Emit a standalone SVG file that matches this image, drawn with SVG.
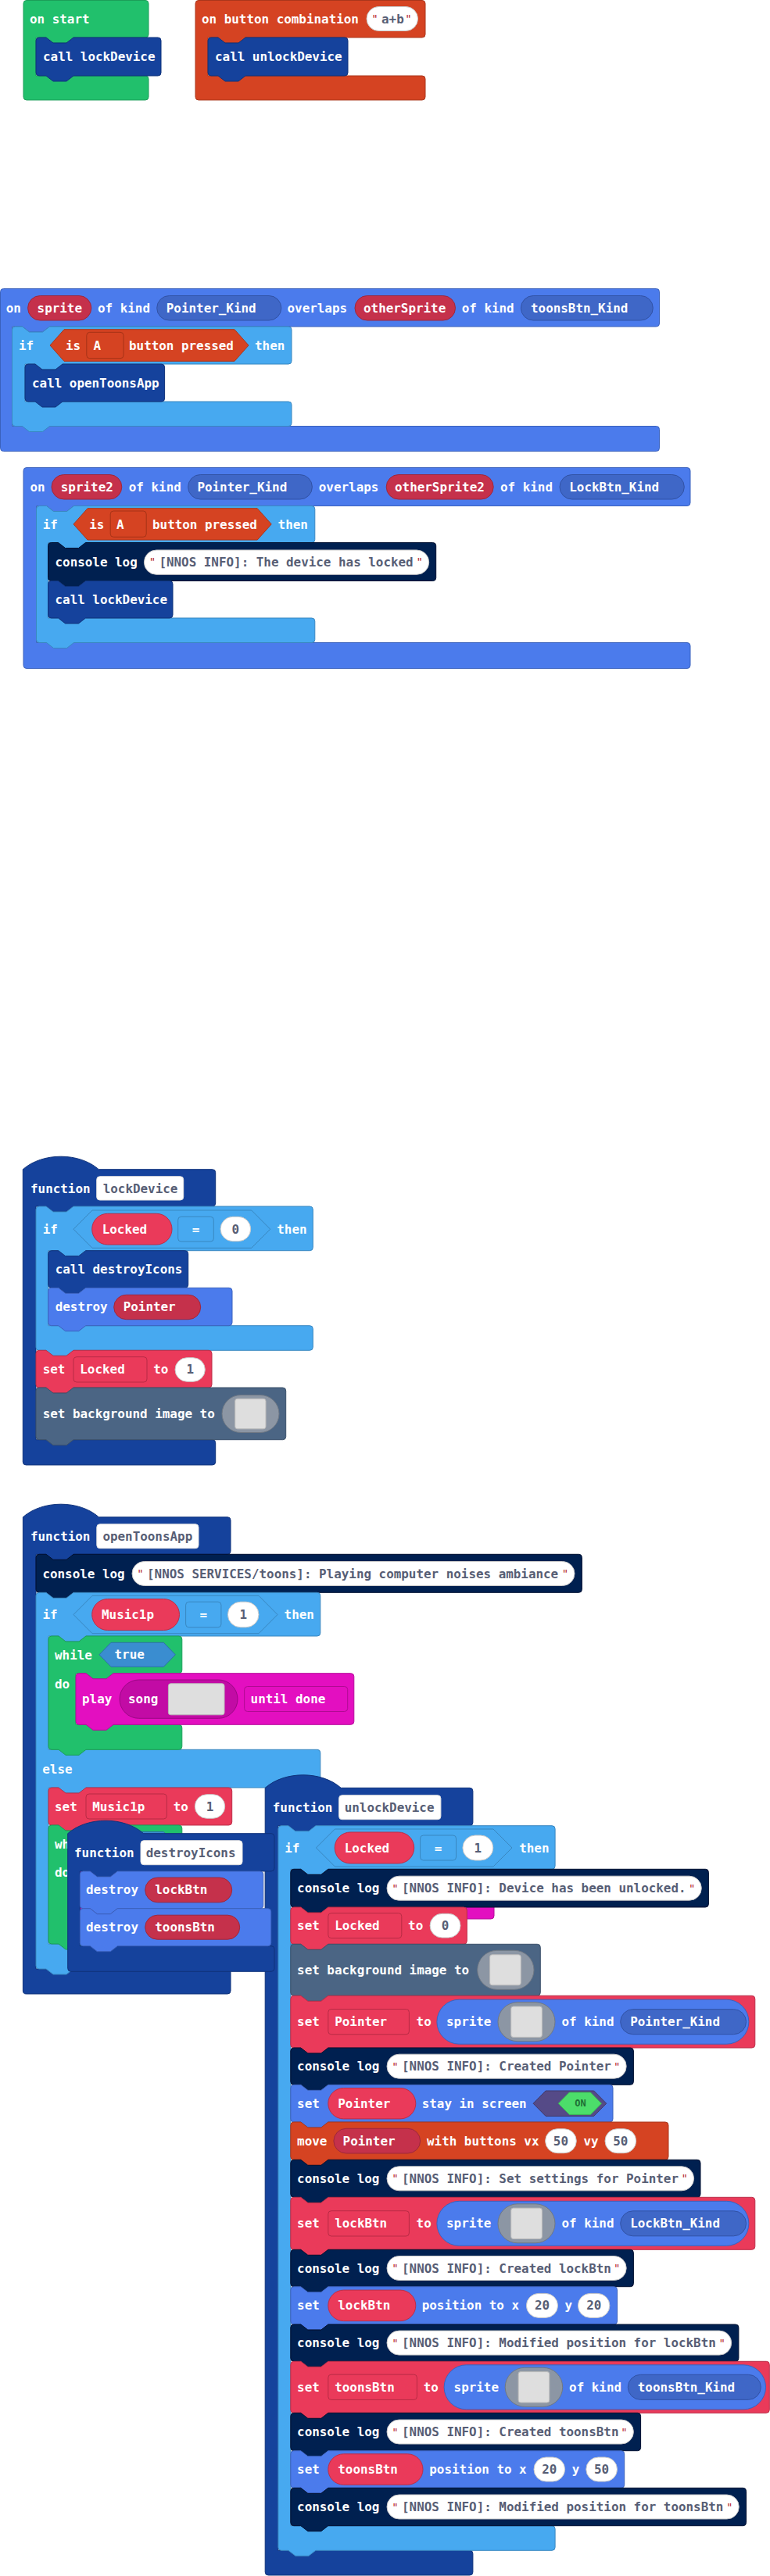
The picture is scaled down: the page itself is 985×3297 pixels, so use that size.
<svg xmlns="http://www.w3.org/2000/svg" width="985" height="3297" viewBox="0 0 985 3297">
<style>
.t{font-family:"DejaVu Sans Mono","Liberation Mono",monospace;font-weight:bold;font-size:15.9px;fill:#fff;dominant-baseline:central}
.d{fill:#575E75}
.c{text-anchor:middle}
.q{font-family:"DejaVu Sans Mono","Liberation Mono",monospace;font-size:14px;fill:#B5272D;dominant-baseline:central;text-anchor:middle}
.on{font-family:"DejaVu Sans Mono","Liberation Mono",monospace;font-weight:bold;font-size:12px;fill:#1E6E34;dominant-baseline:central;text-anchor:middle}
path,rect,polygon{stroke-width:1}
.grn{fill:#21C06C;stroke:#1B9E58}
.ctl{fill:#D54322;stroke:#AA361B}
.fn{fill:#15429C;stroke:#0F327A}
.spr{fill:#4B7BEC;stroke:#3B62BD}
.kd{fill:#3F67C7;stroke:#3152A5}
.lg{fill:#47A9F0;stroke:#3987C0}
.tru{fill:#3A8DD0;stroke:#2D70A8}
.vb{fill:#EA3A5A;stroke:#BB2E48}
.vd{fill:#C5314B;stroke:#9E273C}
.vdd{fill:#EA3A5A;stroke:#B82B45}
.con{fill:#002050;stroke:#000F30}
.scn{fill:#4B6584;stroke:#3C516A}
.img{fill:#8C96A4;stroke:#6F7884}
.imgi{fill:#DEDEDE;stroke:#BBBBBB}
.mus{fill:#E30FC0;stroke:#B50C9A}
.song{fill:#C20BA5;stroke:#9A0884}
.mdd{fill:#E30FC0;stroke:#B00A93}
.wp{fill:#FFFFFF;stroke:#C8C8C8}
.nb{fill:#FFFFFF;stroke:#E0E0E0}
.cdd{fill:#D54322;stroke:#A63317}
.tg{fill:#554A87;stroke:#40386A}
.tgi{fill:#4CDD6A;stroke:#3BB655}
</style>
<defs>
<clipPath id="clip-while2"><rect x="60" y="2340" width="26.7" height="70"/></clipPath>
</defs>
<g id="connectors"/>

<g id="on-start">
<path class="grn" transform="translate(30,0.5)" d="M0,4 Q0,0 4,0 H156 Q160,0 160,4 V43.5 Q160,47.5 156,47.5 H64 L55,54.5 H38 L29,47.5 H16 V96.5 H156 Q160,96.5 160,100.5 V123.5 Q160,127.5 156,127.5 H4 Q0,127.5 0,123.5 Z"/>
<text class="t" x="38" y="24.5">on start</text>
<g id="call-lockDevice-start">
<path class="fn" transform="translate(46,48)" d="M0,4 Q0,0 4,0 H13 L22,7 H39 L48,0 H156 Q160,0 160,4 V45 Q160,49 156,49 H48 L39,56 H22 L13,49 H4 Q0,49 0,45 Z"/>
<text class="t" x="55" y="72.5">call lockDevice</text>
</g>
</g>

<g id="on-button-combination">
<path class="ctl" transform="translate(250,0.5)" d="M0,4 Q0,0 4,0 H290 Q294,0 294,4 V43.5 Q294,47.5 290,47.5 H64 L55,54.5 H38 L29,47.5 H16 V96.5 H290 Q294,96.5 294,100.5 V123.5 Q294,127.5 290,127.5 H4 Q0,127.5 0,123.5 Z"/>
<text class="t" x="258" y="24.5">on button combination</text>
<rect class="wp" x="469" y="8.5" width="65.5" height="31" rx="15.5"/>
<text class="q" x="479.5" y="24">"</text>
<text class="t d" x="488" y="24">a+b</text>
<text class="q" x="522.5" y="24">"</text>
<g id="call-unlockDevice">
<path class="fn" transform="translate(266,48)" d="M0,4 Q0,0 4,0 H13 L22,7 H39 L48,0 H175 Q179,0 179,4 V45 Q179,49 175,49 H48 L39,56 H22 L13,49 H4 Q0,49 0,45 Z"/>
<text class="t" x="275" y="72.5">call unlockDevice</text>
</g>
</g>

<g id="overlap-toons">
<path class="spr" transform="translate(0.5,369.5)" d="M0,4 Q0,0 4,0 H839 Q843,0 843,4 V44.5 Q843,48.5 839,48.5 H63 L54,55.5 H37 L28,48.5 H15 V176 H839 Q843,176 843,180 V204 Q843,208 839,208 H4 Q0,208 0,204 Z"/>
<text class="t" x="7.7" y="394.3">on</text>
<rect class="vd" x="35.6" y="378.5" width="81.2" height="31.5" rx="15.75"/>
<text class="t" x="47.6" y="394.3">sprite</text>
<text class="t" x="125" y="394.3">of kind</text>
<rect class="kd" x="200.7" y="378.5" width="159.1" height="31.5" rx="15.75"/>
<text class="t" x="212.8" y="394.3">Pointer_Kind</text>
<text class="t" x="367.5" y="394.3">overlaps</text>
<rect class="vd" x="454" y="378.5" width="128.5" height="31.5" rx="15.75"/>
<text class="t" x="465" y="394.3">otherSprite</text>
<text class="t" x="590.7" y="394.3">of kind</text>
<rect class="kd" x="666.4" y="378.5" width="168.9" height="31.5" rx="15.75"/>
<text class="t" x="679" y="394.3">toonsBtn_Kind</text>
<g id="if-toons">
<path class="lg" transform="translate(15.5,418)" d="M0,4 Q0,0 4,0 H13 L22,7 H39 L48,0 H353.5 Q357.5,0 357.5,4 V44 Q357.5,48 353.5,48 H64.5 L55.5,55 H38.5 L29.5,48 H16.5 V96 H353.5 Q357.5,96 357.5,100 V123.5 Q357.5,127.5 353.5,127.5 H48 L39,134.5 H22 L13,127.5 H4 Q0,127.5 0,123.5 Z"/>
<text class="t" x="24" y="442">if</text>
<polygon class="ctl" points="64,442 82,421.7 300,421.7 318,442 300,462.3 82,462.3"/>
<text class="t" x="84" y="442">is</text>
<rect class="cdd" x="110.8" y="425.3" width="47.2" height="33.4" rx="4"/>
<text class="t" x="119.6" y="442">A</text>
<text class="t" x="165" y="442">button pressed</text>
<text class="t" x="326" y="442">then</text>
<g id="call-openToonsApp">
<path class="fn" transform="translate(32,466)" d="M0,4 Q0,0 4,0 H13 L22,7 H39 L48,0 H174.6 Q178.6,0 178.6,4 V44 Q178.6,48 174.6,48 H48 L39,55 H22 L13,48 H4 Q0,48 0,44 Z"/>
<text class="t" x="41" y="490">call openToonsApp</text>
</g>
</g>
</g>

<g id="overlap-lock">
<path class="spr" transform="translate(30,598.5)" d="M0,4 Q0,0 4,0 H849 Q853,0 853,4 V45 Q853,49 849,49 H64.5 L55.5,56 H38.5 L29.5,49 H16.5 V224 H849 Q853,224 853,228 V253 Q853,257 849,257 H4 Q0,257 0,253 Z"/>
<text class="t" x="38.5" y="623.3">on</text>
<rect class="vd" x="66" y="607.5" width="89.8" height="31.5" rx="15.75"/>
<text class="t" x="77.8" y="623.3">sprite2</text>
<text class="t" x="164.8" y="623.3">of kind</text>
<rect class="kd" x="240.6" y="607.5" width="158.8" height="31.5" rx="15.75"/>
<text class="t" x="252.4" y="623.3">Pointer_Kind</text>
<text class="t" x="407.8" y="623.3">overlaps</text>
<rect class="vd" x="494.2" y="607.5" width="137" height="31.5" rx="15.75"/>
<text class="t" x="505" y="623.3">otherSprite2</text>
<text class="t" x="640" y="623.3">of kind</text>
<rect class="kd" x="716" y="607.5" width="159.3" height="31.5" rx="15.75"/>
<text class="t" x="728.3" y="623.3">LockBtn_Kind</text>
<g id="if-lock">
<path class="lg" transform="translate(46.5,647.5)" d="M0,4 Q0,0 4,0 H13 L22,7 H39 L48,0 H352.3 Q356.3,0 356.3,4 V43 Q356.3,47 352.3,47 H63 L54,54 H37 L28,47 H15 V143.5 H352.3 Q356.3,143.5 356.3,147.5 V171 Q356.3,175 352.3,175 H48 L39,182 H22 L13,175 H4 Q0,175 0,171 Z"/>
<text class="t" x="54.8" y="671">if</text>
<polygon class="ctl" points="94,670.9 112,650.7 329.2,650.7 347.2,670.9 329.2,691 112,691"/>
<text class="t" x="114.3" y="671">is</text>
<rect class="cdd" x="141.2" y="654" width="46" height="33.3" rx="4"/>
<text class="t" x="149" y="671">A</text>
<text class="t" x="195" y="671">button pressed</text>
<text class="t" x="355.6" y="671">then</text>
<g id="log-locked">
<path class="con" transform="translate(61.5,694.5)" d="M0,4 Q0,0 4,0 H13 L22,7 H39 L48,0 H492.2 Q496.2,0 496.2,4 V45 Q496.2,49 492.2,49 H48 L39,56 H22 L13,49 H4 Q0,49 0,45 Z"/>
<text class="t" x="70.5" y="719">console log</text>
<rect class="wp" x="184.4" y="704" width="364.3" height="31.3" rx="15.65"/>
<text class="q" x="194.9" y="719">"</text>
<text class="t d" x="203.4" y="719">[NNOS INFO]: The device has locked</text>
<text class="q" x="536.7" y="719">"</text>
</g>
<g id="call-lockDevice-2">
<path class="fn" transform="translate(61.5,743.5)" d="M0,4 Q0,0 4,0 H13 L22,7 H39 L48,0 H155.5 Q159.5,0 159.5,4 V43.5 Q159.5,47.5 155.5,47.5 H48 L39,54.5 H22 L13,47.5 H4 Q0,47.5 0,43.5 Z"/>
<text class="t" x="70.5" y="767.3">call lockDevice</text>
</g>
</g>
</g>

<g id="function-lockDevice">
<path class="fn" transform="translate(29.3,1496.7)" d="M0,0 C25,-22 72,-22 97,0 H242.4 Q246.4,0 246.4,4 V43.3 Q246.4,47.3 242.4,47.3 H64.7 L55.7,54.3 H38.7 L29.7,47.3 H16.7 V346 H242.4 Q246.4,346 246.4,350 V374.3 Q246.4,378.3 242.4,378.3 H4 Q0,378.3 0,374.3 Z"/>
<text class="t" x="39" y="1521">function</text>
<rect class="nb" x="123.7" y="1505.7" width="111" height="30.3" rx="4"/>
<text class="t d" x="131.7" y="1521">lockDevice</text>
<g id="if-locked-0">
<path class="lg" transform="translate(46,1544)" d="M0,4 Q0,0 4,0 H13 L22,7 H39 L48,0 H350.3 Q354.3,0 354.3,4 V52.7 Q354.3,56.7 350.3,56.7 H63.7 L54.7,63.7 H37.7 L28.7,56.7 H15.7 V152.7 H350.3 Q354.3,152.7 354.3,156.7 V180.3 Q354.3,184.3 350.3,184.3 H48 L39,191.3 H22 L13,184.3 H4 Q0,184.3 0,180.3 Z"/>
<text class="t" x="54.7" y="1573.2">if</text>
<polygon class="lg" points="94,1573.2 118,1549 321.7,1549 345.7,1573.2 321.7,1597.3 118,1597.3"/>
<rect class="vb" x="117.7" y="1553.3" width="102.3" height="39.7" rx="19.85"/>
<text class="t" x="130.7" y="1573.2">Locked</text>
<rect class="lg" x="227.7" y="1557.3" width="45.6" height="31.7" rx="4"/>
<text class="t c" x="250.5" y="1573.2">=</text>
<rect class="wp" x="282" y="1557.3" width="38.7" height="31.4" rx="15.7"/>
<text class="t d c" x="301.3" y="1573.2">0</text>
<text class="t" x="354.3" y="1573.2">then</text>
<g id="call-destroyIcons">
<path class="fn" transform="translate(61.7,1600.7)" d="M0,4 Q0,0 4,0 H13 L22,7 H39 L48,0 H175 Q179,0 179,4 V43.6 Q179,47.6 175,47.6 H48 L39,54.6 H22 L13,47.6 H4 Q0,47.6 0,43.6 Z"/>
<text class="t" x="70.7" y="1624.7">call destroyIcons</text>
</g>
<g id="destroy-Pointer">
<path class="spr" transform="translate(61.7,1648.3)" d="M0,4 Q0,0 4,0 H13 L22,7 H39 L48,0 H231.3 Q235.3,0 235.3,4 V44.4 Q235.3,48.4 231.3,48.4 H48 L39,55.4 H22 L13,48.4 H4 Q0,48.4 0,44.4 Z"/>
<text class="t" x="70.7" y="1672.8">destroy</text>
<rect class="vd" x="145.7" y="1657.3" width="111" height="31.4" rx="15.7"/>
<text class="t" x="157.7" y="1672.8">Pointer</text>
</g>
</g>
<g id="set-Locked-1">
<path class="vb" transform="translate(46,1728.3)" d="M0,4 Q0,0 4,0 H13 L22,7 H39 L48,0 H221 Q225,0 225,4 V43.7 Q225,47.7 221,47.7 H48 L39,54.7 H22 L13,47.7 H4 Q0,47.7 0,43.7 Z"/>
<text class="t" x="54.7" y="1752.8">set</text>
<rect class="vdd" x="94" y="1736.7" width="94" height="32.3" rx="4"/>
<text class="t" x="102.3" y="1752.8">Locked</text>
<text class="t" x="196.3" y="1752.8">to</text>
<rect class="wp" x="224" y="1737.7" width="38.3" height="30.6" rx="15.3"/>
<text class="t d c" x="243.2" y="1752.8">1</text>
</g>
<g id="set-background-lock">
<path class="scn" transform="translate(46,1776)" d="M0,4 Q0,0 4,0 H13 L22,7 H39 L48,0 H315.7 Q319.7,0 319.7,4 V62.7 Q319.7,66.7 315.7,66.7 H48 L39,73.7 H22 L13,66.7 H4 Q0,66.7 0,62.7 Z"/>
<text class="t" x="54.7" y="1809.5">set background image to</text>
<rect class="img" x="284" y="1785.5" width="73" height="48" rx="24"/>
<rect class="imgi" x="300.7" y="1790.2" width="39.3" height="38.6" rx="3"/>
</g>
</g>

<g id="function-openToonsApp">
<path class="fn" transform="translate(29.4,1941.7)" d="M0,0 C25,-22 72,-22 97,0 H261.6 Q265.6,0 265.6,4 V43.6 Q265.6,47.6 261.6,47.6 H64.6 L55.6,54.6 H38.6 L29.6,47.6 H16.6 V578.3 H261.6 Q265.6,578.3 265.6,582.3 V606.3 Q265.6,610.3 261.6,610.3 H4 Q0,610.3 0,606.3 Z"/>
<text class="t" x="38.9" y="1966.5">function</text>
<rect class="nb" x="123.8" y="1950.7" width="130.2" height="31" rx="4"/>
<text class="t d" x="131.4" y="1966.5">openToonsApp</text>
<g id="log-toons">
<path class="con" transform="translate(46,1989.3)" d="M0,4 Q0,0 4,0 H13 L22,7 H39 L48,0 H694.4 Q698.4,0 698.4,4 V45 Q698.4,49 694.4,49 H48 L39,56 H22 L13,49 H4 Q0,49 0,45 Z"/>
<text class="t" x="54.4" y="2014">console log</text>
<rect class="wp" x="169" y="1998.5" width="566" height="31" rx="15.5"/>
<text class="q" x="179.5" y="2014">"</text>
<text class="t d" x="188" y="2014">[NNOS SERVICES/toons]: Playing computer noises ambiance</text>
<text class="q" x="723" y="2014">"</text>
</g>
<g id="if-music">
<path class="lg" transform="translate(46,2038.3)" d="M0,4 Q0,0 4,0 H13 L22,7 H39 L48,0 H359.8 Q363.8,0 363.8,4 V51.7 Q363.8,55.7 359.8,55.7 H64 L55,62.7 H38 L29,55.7 H16 V201 H359.8 Q363.8,201 363.8,205 V245.7 Q363.8,249.7 359.8,249.7 H64 L55,256.7 H38 L29,249.7 H16 V449.7 H359.8 Q363.8,449.7 363.8,453.7 V477.7 Q363.8,481.7 359.8,481.7 H48 L39,488.7 H22 L13,481.7 H4 Q0,481.7 0,477.7 Z"/>
<text class="t" x="54.4" y="2066.5">if</text>
<polygon class="lg" points="94,2066.5 118,2042.3 331,2042.3 355,2066.5 331,2090.7 118,2090.7"/>
<rect class="vb" x="117.7" y="2046.5" width="111.8" height="40" rx="20"/>
<text class="t" x="130" y="2066.5">Music1p</text>
<rect class="lg" x="237.6" y="2050.2" width="45.3" height="32.6" rx="4"/>
<text class="t c" x="260.2" y="2066.5">=</text>
<rect class="wp" x="291.4" y="2050.2" width="39.6" height="32.6" rx="16.3"/>
<text class="t d c" x="311.2" y="2066.5">1</text>
<text class="t" x="363.6" y="2066.5">then</text>
<text class="t" x="54.3" y="2264">else</text>
<g id="while-1">
<path class="grn" transform="translate(62,2094)" d="M0,4 Q0,0 4,0 H13 L22,7 H39 L48,0 H166.8 Q170.8,0 170.8,4 V43.7 Q170.8,47.7 166.8,47.7 H83 L74,54.7 H57 L48,47.7 H35 V113.3 H166.8 Q170.8,113.3 170.8,117.3 V141.3 Q170.8,145.3 166.8,145.3 H48 L39,152.3 H22 L13,145.3 H4 Q0,145.3 0,141.3 Z"/>
<text class="t" x="70" y="2118">while</text>
<polygon class="tru" points="127,2117.8 142,2102.3 209.3,2102.3 224.3,2117.8 209.3,2133.3 142,2133.3"/>
<text class="t" x="146.5" y="2117.8">true</text>
<text class="t" x="70" y="2155">do</text>
<g id="play-song-1">
<path class="mus" transform="translate(97,2141.7)" d="M0,4 Q0,0 4,0 H13 L22,7 H39 L48,0 H351.8 Q355.8,0 355.8,4 V61.6 Q355.8,65.6 351.8,65.6 H48 L39,72.6 H22 L13,65.6 H4 Q0,65.6 0,61.6 Z"/>
<text class="t" x="105" y="2174.5">play</text>
<rect class="song" x="153" y="2150" width="151" height="49.3" rx="24.65"/>
<text class="t" x="164" y="2174.5">song</text>
<rect class="imgi" x="215.4" y="2154.8" width="71.6" height="40" rx="3"/>
<rect class="mdd" x="312.6" y="2158.5" width="132.1" height="32" rx="4"/>
<text class="t" x="320.6" y="2174.5">until done</text>
</g>
</g>
<g id="set-Music1p">
<path class="vb" transform="translate(62,2288)" d="M0,4 Q0,0 4,0 H13 L22,7 H39 L48,0 H230.7 Q234.7,0 234.7,4 V44 Q234.7,48 230.7,48 H48 L39,55 H22 L13,48 H4 Q0,48 0,44 Z"/>
<text class="t" x="70" y="2312">set</text>
<rect class="vdd" x="110" y="2296" width="103.3" height="32" rx="4"/>
<text class="t" x="118.3" y="2312">Music1p</text>
<text class="t" x="221.7" y="2312">to</text>
<rect class="wp" x="249.3" y="2296.7" width="38.4" height="30.6" rx="15.3"/>
<text class="t d c" x="268.5" y="2312">1</text>
</g>
<g id="while-2">
<path class="grn" transform="translate(62,2336)" d="M0,4 Q0,0 4,0 H13 L22,7 H39 L48,0 H166.8 Q170.8,0 170.8,4 V43.5 Q170.8,47.5 166.8,47.5 H83 L74,54.5 H57 L48,47.5 H35 V120 H166.8 Q170.8,120 170.8,124 V148 Q170.8,152 166.8,152 H48 L39,159 H22 L13,152 H4 Q0,152 0,148 Z"/>
<g clip-path="url(#clip-while2)">
<text class="t" x="70" y="2360">while</text>
<text class="t" x="70" y="2396.7">do</text>
</g>
<polygon class="tru" points="127,2360 142,2344.5 209.3,2344.5 224.3,2360 209.3,2375.5 142,2375.5"/>
<g id="play-song-2">
<path class="mus" transform="translate(97,2383.5)" d="M0,4 Q0,0 4,0 H13 L22,7 H39 L48,0 H531 Q535,0 535,4 V68.5 Q535,72.5 531,72.5 H48 L39,79.5 H22 L13,72.5 H4 Q0,72.5 0,68.5 Z"/>
<rect x="160" y="2392" width="420" height="56" rx="28" fill="#F0F0F0" stroke="#B5B5B5"/>
</g>
</g>
</g>
</g>

<g id="function-unlockDevice">
<path class="fn" transform="translate(339.2,2288.3)" d="M0,0 C25,-22 72,-22 97,0 H261.7 Q265.7,0 265.7,4 V44.4 Q265.7,48.4 261.7,48.4 H64.7 L55.7,55.4 H38.7 L29.7,48.4 H16.7 V976 H261.7 Q265.7,976 265.7,980 V1003.7 Q265.7,1007.7 261.7,1007.7 H4 Q0,1007.7 0,1003.7 Z"/>
<text class="t" x="348.8" y="2313">function</text>
<rect class="nb" x="433.6" y="2297.7" width="130.3" height="31" rx="4"/>
<text class="t d" x="440.7" y="2313">unlockDevice</text>
<g id="if-locked-1">
<path class="lg" transform="translate(355.9,2336.7)" d="M0,4 Q0,0 4,0 H13 L22,7 H39 L48,0 H350.2 Q354.2,0 354.2,4 V51.6 Q354.2,55.6 350.2,55.6 H63.9 L54.9,62.6 H37.9 L28.9,55.6 H15.9 V896 H350.2 Q354.2,896 354.2,900 V923.6 Q354.2,927.6 350.2,927.6 H48 L39,934.6 H22 L13,927.6 H4 Q0,927.6 0,923.6 Z"/>
<text class="t" x="364.3" y="2365">if</text>
<polygon class="lg" points="404.4,2365 428.4,2341 631,2341 655,2365 631,2389 428.4,2389"/>
<rect class="vb" x="428.2" y="2345" width="101.5" height="40" rx="20"/>
<text class="t" x="440.7" y="2365">Locked</text>
<rect class="lg" x="537.6" y="2349" width="45.9" height="32" rx="4"/>
<text class="t c" x="560.5" y="2365">=</text>
<rect class="wp" x="591.9" y="2349" width="38.9" height="32" rx="16"/>
<text class="t d c" x="611.3" y="2365">1</text>
<text class="t" x="664.2" y="2365">then</text>

<g id="log-unlocked">
<path class="con" transform="translate(371.8,2392.3)" d="M0,4 Q0,0 4,0 H13 L22,7 H39 L48,0 H530.6 Q534.6,0 534.6,4 V44.7 Q534.6,48.7 530.6,48.7 H48 L39,55.7 H22 L13,48.7 H4 Q0,48.7 0,44.7 Z"/>
<text class="t" x="380.1" y="2416.6">console log</text>
<rect class="wp" x="495" y="2401.2" width="402.3" height="31" rx="15.5"/>
<text class="q" x="505.5" y="2416.6">"</text>
<text class="t d" x="514" y="2416.6">[NNOS INFO]: Device has been unlocked.</text>
<text class="q" x="885.3" y="2416.6">"</text>
</g>
<g id="set-Locked-0">
<path class="vb" transform="translate(371.8,2441)" d="M0,4 Q0,0 4,0 H13 L22,7 H39 L48,0 H221.5 Q225.5,0 225.5,4 V43.3 Q225.5,47.3 221.5,47.3 H48 L39,54.3 H22 L13,47.3 H4 Q0,47.3 0,43.3 Z"/>
<text class="t" x="380.1" y="2464.6">set</text>
<rect class="vdd" x="419.8" y="2448.6" width="94" height="32" rx="4"/>
<text class="t" x="428.2" y="2464.6">Locked</text>
<text class="t" x="522.1" y="2464.6">to</text>
<rect class="wp" x="550.1" y="2449.3" width="38.9" height="30.7" rx="15.35"/>
<text class="t d c" x="569.5" y="2464.6">0</text>
</g>
<g id="set-background-unlock">
<path class="scn" transform="translate(371.8,2488.3)" d="M0,4 Q0,0 4,0 H13 L22,7 H39 L48,0 H315.5 Q319.5,0 319.5,4 V62 Q319.5,66 315.5,66 H48 L39,73 H22 L13,66 H4 Q0,66 0,62 Z"/>
<text class="t" x="380.1" y="2521.3">set background image to</text>
<rect class="img" x="610.7" y="2496.3" width="72.3" height="50" rx="25"/>
<rect class="imgi" x="626.6" y="2501.8" width="39.7" height="39" rx="3"/>
</g>
<g id="set-Pointer-sprite">
<path class="vb" transform="translate(371.8,2554.3)" d="M0,4 Q0,0 4,0 H13 L22,7 H39 L48,0 H590 Q594,0 594,4 V62.7 Q594,66.7 590,66.7 H48 L39,73.7 H22 L13,66.7 H4 Q0,66.7 0,62.7 Z"/>
<text class="t" x="380.1" y="2587.7">set</text>
<rect class="vdd" x="419.8" y="2571.5" width="103.6" height="32.3" rx="4"/>
<text class="t" x="428.2" y="2587.7">Pointer</text>
<text class="t" x="532.6" y="2587.7">to</text>
<rect class="spr" x="558.9" y="2559.2" width="399" height="57" rx="28.5"/>
<text class="t" x="571" y="2587.7">sprite</text>
<rect class="img" x="637" y="2562.7" width="73" height="50" rx="25"/>
<rect class="imgi" x="653.7" y="2568" width="39.7" height="39.4" rx="3"/>
<text class="t" x="718.5" y="2587.7">of kind</text>
<rect class="kd" x="793.7" y="2571.7" width="160.8" height="32" rx="16"/>
<text class="t" x="806.2" y="2587.7">Pointer_Kind</text>
</g>
<g id="log-created-pointer">
<path class="con" transform="translate(371.8,2621)" d="M0,4 Q0,0 4,0 H13 L22,7 H39 L48,0 H434.6 Q438.6,0 438.6,4 V43.3 Q438.6,47.3 434.6,47.3 H48 L39,54.3 H22 L13,47.3 H4 Q0,47.3 0,43.3 Z"/>
<text class="t" x="380.1" y="2644.7">console log</text>
<rect class="wp" x="495" y="2629.2" width="306.2" height="31" rx="15.5"/>
<text class="q" x="505.5" y="2644.7">"</text>
<text class="t d" x="514" y="2644.7">[NNOS INFO]: Created Pointer</text>
<text class="q" x="789.2" y="2644.7">"</text>
</g>
<g id="set-stay-in-screen">
<path class="spr" transform="translate(371.8,2668.3)" d="M0,4 Q0,0 4,0 H13 L22,7 H39 L48,0 H408.2 Q412.2,0 412.2,4 V43.7 Q412.2,47.7 408.2,47.7 H48 L39,54.7 H22 L13,47.7 H4 Q0,47.7 0,43.7 Z"/>
<text class="t" x="380.1" y="2692.2">set</text>
<rect class="vb" x="419.8" y="2672.5" width="112" height="39.4" rx="19.7"/>
<text class="t" x="432.3" y="2692.2">Pointer</text>
<text class="t" x="539.7" y="2692.2">stay in screen</text>
<polygon class="tg" points="682.1,2692.2 698.1,2676 759.7,2676 775.7,2692.2 759.7,2708.4 698.1,2708.4"/>
<polygon class="tgi" points="714.3,2692.2 728.3,2678 755.4,2678 769.4,2692.2 755.4,2706.4 728.3,2706.4"/>
<text class="on" x="742.5" y="2692.2">ON</text>
</g>
<g id="move-with-buttons">
<path class="ctl" transform="translate(371.8,2716)" d="M0,4 Q0,0 4,0 H13 L22,7 H39 L48,0 H479.2 Q483.2,0 483.2,4 V44.3 Q483.2,48.3 479.2,48.3 H48 L39,55.3 H22 L13,48.3 H4 Q0,48.3 0,44.3 Z"/>
<text class="t" x="380.1" y="2740.2">move</text>
<rect class="vd" x="426.9" y="2724.3" width="110.7" height="31.7" rx="15.85"/>
<text class="t" x="438.6" y="2740.2">Pointer</text>
<text class="t" x="546" y="2740.2">with buttons vx</text>
<rect class="wp" x="697.6" y="2724.7" width="39.7" height="31" rx="15.5"/>
<text class="t d c" x="717.4" y="2740.2">50</text>
<text class="t" x="746.5" y="2740.2">vy</text>
<rect class="wp" x="774" y="2724.7" width="39.7" height="31" rx="15.5"/>
<text class="t d c" x="793.8" y="2740.2">50</text>
</g>
<g id="log-settings-pointer">
<path class="con" transform="translate(371.8,2764.3)" d="M0,4 Q0,0 4,0 H13 L22,7 H39 L48,0 H520.2 Q524.2,0 524.2,4 V44 Q524.2,48 520.2,48 H48 L39,55 H22 L13,48 H4 Q0,48 0,44 Z"/>
<text class="t" x="380.1" y="2788.3">console log</text>
<rect class="wp" x="495" y="2772.8" width="392.6" height="31" rx="15.5"/>
<text class="q" x="505.5" y="2788.3">"</text>
<text class="t d" x="514" y="2788.3">[NNOS INFO]: Set settings for Pointer</text>
<text class="q" x="875.6" y="2788.3">"</text>
</g>
<g id="set-lockBtn-sprite">
<path class="vb" transform="translate(371.8,2812.3)" d="M0,4 Q0,0 4,0 H13 L22,7 H39 L48,0 H590 Q594,0 594,4 V63 Q594,67 590,67 H48 L39,74 H22 L13,67 H4 Q0,67 0,63 Z"/>
<text class="t" x="380.1" y="2845.8">set</text>
<rect class="vdd" x="419.8" y="2829.7" width="103.6" height="32.3" rx="4"/>
<text class="t" x="428.2" y="2845.8">lockBtn</text>
<text class="t" x="532.6" y="2845.8">to</text>
<rect class="spr" x="558.9" y="2817.3" width="399" height="57" rx="28.5"/>
<text class="t" x="571" y="2845.8">sprite</text>
<rect class="img" x="637" y="2820.8" width="73" height="50" rx="25"/>
<rect class="imgi" x="653.7" y="2826.1" width="39.7" height="39.4" rx="3"/>
<text class="t" x="718.5" y="2845.8">of kind</text>
<rect class="kd" x="793.7" y="2829.8" width="160.8" height="32" rx="16"/>
<text class="t" x="806.2" y="2845.8">LockBtn_Kind</text>
</g>
<g id="log-created-lockBtn">
<path class="con" transform="translate(371.8,2879.3)" d="M0,4 Q0,0 4,0 H13 L22,7 H39 L48,0 H434.6 Q438.6,0 438.6,4 V43.4 Q438.6,47.4 434.6,47.4 H48 L39,54.4 H22 L13,47.4 H4 Q0,47.4 0,43.4 Z"/>
<text class="t" x="380.1" y="2903">console log</text>
<rect class="wp" x="495" y="2887.5" width="306.2" height="31" rx="15.5"/>
<text class="q" x="505.5" y="2903">"</text>
<text class="t d" x="514" y="2903">[NNOS INFO]: Created lockBtn</text>
<text class="q" x="789.2" y="2903">"</text>
</g>
<g id="set-lockBtn-position">
<path class="spr" transform="translate(371.8,2926.7)" d="M0,4 Q0,0 4,0 H13 L22,7 H39 L48,0 H413.7 Q417.7,0 417.7,4 V44.3 Q417.7,48.3 413.7,48.3 H48 L39,55.3 H22 L13,48.3 H4 Q0,48.3 0,44.3 Z"/>
<text class="t" x="380.1" y="2950.9">set</text>
<rect class="vb" x="419.8" y="2931.1" width="112" height="39.5" rx="19.75"/>
<text class="t" x="432.3" y="2950.9">lockBtn</text>
<text class="t" x="539.7" y="2950.9">position to x</text>
<rect class="wp" x="673.4" y="2935.4" width="40.1" height="31" rx="15.5"/>
<text class="t d c" x="693.5" y="2950.9">20</text>
<text class="t" x="722.6" y="2950.9">y</text>
<rect class="wp" x="739.4" y="2935.4" width="40.5" height="31" rx="15.5"/>
<text class="t d c" x="759.7" y="2950.9">20</text>
</g>
<g id="log-position-lockBtn">
<path class="con" transform="translate(371.8,2975)" d="M0,4 Q0,0 4,0 H13 L22,7 H39 L48,0 H569.1 Q573.1,0 573.1,4 V43.3 Q573.1,47.3 569.1,47.3 H48 L39,54.3 H22 L13,47.3 H4 Q0,47.3 0,43.3 Z"/>
<text class="t" x="380.1" y="2998.7">console log</text>
<rect class="wp" x="495" y="2983.1" width="440.7" height="31" rx="15.5"/>
<text class="q" x="505.5" y="2998.7">"</text>
<text class="t d" x="514" y="2998.7">[NNOS INFO]: Modified position for lockBtn</text>
<text class="q" x="923.7" y="2998.7">"</text>
</g>
<g id="set-toonsBtn-sprite">
<path class="vb" transform="translate(371.8,3022.3)" d="M0,4 Q0,0 4,0 H13 L22,7 H39 L48,0 H608.5 Q612.5,0 612.5,4 V62 Q612.5,66 608.5,66 H48 L39,73 H22 L13,66 H4 Q0,66 0,62 Z"/>
<text class="t" x="380.1" y="3055.3">set</text>
<rect class="vdd" x="419.8" y="3039.1" width="113.6" height="32.3" rx="4"/>
<text class="t" x="428.2" y="3055.3">toonsBtn</text>
<text class="t" x="541.8" y="3055.3">to</text>
<rect class="spr" x="568.1" y="3026.8" width="411.4" height="57" rx="28.5"/>
<text class="t" x="580.6" y="3055.3">sprite</text>
<rect class="img" x="646.2" y="3030.3" width="73.5" height="50" rx="25"/>
<rect class="imgi" x="663.1" y="3035.6" width="39.7" height="39.4" rx="3"/>
<text class="t" x="728.1" y="3055.3">of kind</text>
<rect class="kd" x="803.3" y="3039.3" width="170" height="32" rx="16"/>
<text class="t" x="815.8" y="3055.3">toonsBtn_Kind</text>
</g>
<g id="log-created-toonsBtn">
<path class="con" transform="translate(371.8,3088.3)" d="M0,4 Q0,0 4,0 H13 L22,7 H39 L48,0 H443.8 Q447.8,0 447.8,4 V44.4 Q447.8,48.4 443.8,48.4 H48 L39,55.4 H22 L13,48.4 H4 Q0,48.4 0,44.4 Z"/>
<text class="t" x="380.1" y="3112.5">console log</text>
<rect class="wp" x="495" y="3097" width="315.4" height="31" rx="15.5"/>
<text class="q" x="505.5" y="3112.5">"</text>
<text class="t d" x="514" y="3112.5">[NNOS INFO]: Created toonsBtn</text>
<text class="q" x="798.4" y="3112.5">"</text>
</g>
<g id="set-toonsBtn-position">
<path class="spr" transform="translate(371.8,3136.7)" d="M0,4 Q0,0 4,0 H13 L22,7 H39 L48,0 H422.9 Q426.9,0 426.9,4 V43.6 Q426.9,47.6 422.9,47.6 H48 L39,54.6 H22 L13,47.6 H4 Q0,47.6 0,43.6 Z"/>
<text class="t" x="380.1" y="3160.5">set</text>
<rect class="vb" x="419.8" y="3140.8" width="121.2" height="39.4" rx="19.7"/>
<text class="t" x="432.3" y="3160.5">toonsBtn</text>
<text class="t" x="549.3" y="3160.5">position to x</text>
<rect class="wp" x="683" y="3145" width="39.6" height="31" rx="15.5"/>
<text class="t d c" x="702.8" y="3160.5">20</text>
<text class="t" x="731.8" y="3160.5">y</text>
<rect class="wp" x="749.8" y="3145" width="39.7" height="31" rx="15.5"/>
<text class="t d c" x="769.6" y="3160.5">50</text>
</g>
<g id="log-position-toonsBtn">
<path class="con" transform="translate(371.8,3184.3)" d="M0,4 Q0,0 4,0 H13 L22,7 H39 L48,0 H578.7 Q582.7,0 582.7,4 V44.4 Q582.7,48.4 578.7,48.4 H48 L39,55.4 H22 L13,48.4 H4 Q0,48.4 0,44.4 Z"/>
<text class="t" x="380.1" y="3208.5">console log</text>
<rect class="wp" x="495" y="3193" width="450.3" height="31" rx="15.5"/>
<text class="q" x="505.5" y="3208.5">"</text>
<text class="t d" x="514" y="3208.5">[NNOS INFO]: Modified position for toonsBtn</text>
<text class="q" x="933.3" y="3208.5">"</text>
</g>
</g>
</g>

<g id="function-destroyIcons">
<path class="fn" transform="translate(86.7,2346.7)" d="M0,0 C25,-22 72,-22 97,0 H260.3 Q264.3,0 264.3,4 V44.3 Q264.3,48.3 260.3,48.3 H63.6 L54.6,55.3 H37.6 L28.6,48.3 H15.6 V144 H260.3 Q264.3,144 264.3,148 V172.6 Q264.3,176.6 260.3,176.6 H4 Q0,176.6 0,172.6 Z"/>
<text class="t" x="95" y="2371">function</text>
<rect class="nb" x="180" y="2355.7" width="130" height="31" rx="4"/>
<text class="t d" x="186.7" y="2371">destroyIcons</text>
<g id="destroy-lockBtn">
<path class="spr" transform="translate(102.3,2395)" d="M0,4 Q0,0 4,0 H13 L22,7 H39 L48,0 H230.4 Q234.4,0 234.4,4 V43.7 Q234.4,47.7 230.4,47.7 H48 L39,54.7 H22 L13,47.7 H4 Q0,47.7 0,43.7 Z"/>
<text class="t" x="110" y="2418.9">destroy</text>
<rect class="vd" x="185.7" y="2403.1" width="111" height="31.7" rx="15.85"/>
<text class="t" x="198.3" y="2418.9">lockBtn</text>
</g>
<g id="destroy-toonsBtn">
<path class="spr" transform="translate(102.3,2442.7)" d="M0,4 Q0,0 4,0 H13 L22,7 H39 L48,0 H240.4 Q244.4,0 244.4,4 V44 Q244.4,48 240.4,48 H48 L39,55 H22 L13,48 H4 Q0,48 0,44 Z"/>
<text class="t" x="110" y="2466.7">destroy</text>
<rect class="vd" x="185.7" y="2451.2" width="121" height="31" rx="15.5"/>
<text class="t" x="198.3" y="2466.7">toonsBtn</text>
</g>
</g>
</svg>
